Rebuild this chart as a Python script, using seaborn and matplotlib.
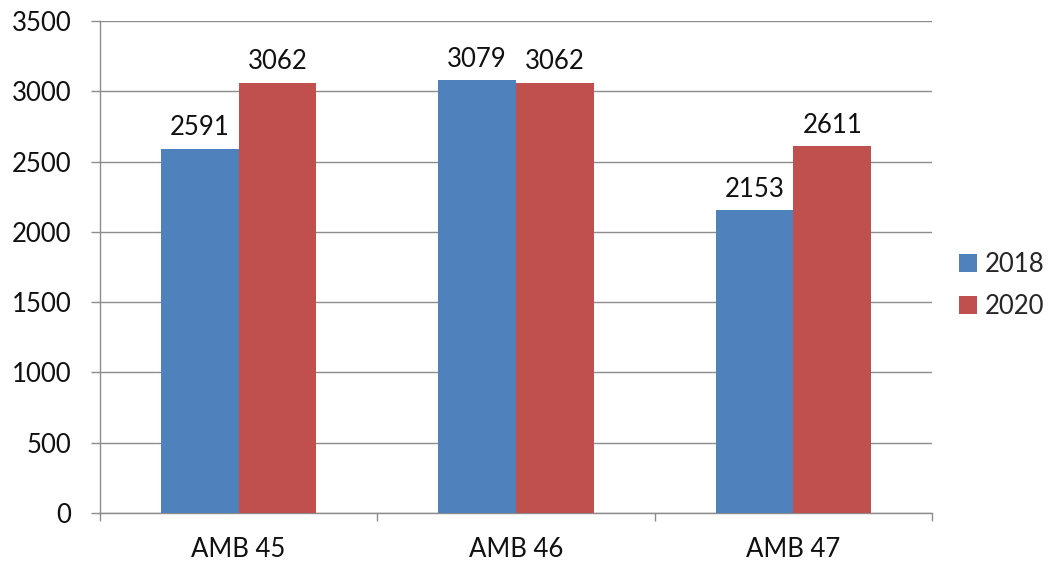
import matplotlib
matplotlib.use("Agg")
import matplotlib.pyplot as plt
import seaborn as sns
import pandas as pd

categories = ["AMB 45", "AMB 46", "AMB 47"]
years = ["2018", "2020"]
values_2018 = [2591, 3079, 2153]
values_2020 = [3062, 3062, 2611]
y_ticks = [0, 500, 1000, 1500, 2000, 2500, 3000, 3500]

df = pd.DataFrame({
    "category": categories * 2,
    "year": [years[0]] * 3 + [years[1]] * 3,
    "value": values_2018 + values_2020,
})

sns.set_theme(style="white")
plt.rcParams["font.family"] = ["Lato", "DejaVu Sans"]

fs = 18.5
grid_color = "#8c8c8c"
fig = plt.figure(figsize=(10.49, 5.64), dpi=100)
ax = fig.add_axes([0.0953, 0.0904, 0.7932, 0.8724])

sns.barplot(data=df, x="category", y="value", hue="year", order=categories,
            hue_order=years, palette=["#4F81BD", "#C0504D"], width=0.56,
            saturation=1, edgecolor="none", linewidth=0, ax=ax, zorder=3,
            legend=True)

for cont in ax.containers:
    ax.bar_label(cont, labels=[f"{v:.0f}" for v in cont.datavalues],
                 padding=6, fontsize=fs, color="#111111")

ax.set_ylim(0, 3500)
ax.set_yticks(y_ticks)
ax.set_yticklabels([str(t) for t in y_ticks], fontsize=fs, color="#111111")
ax.set_xlim(-0.5, 2.5)
ax.set_xticks(range(len(categories)))
ax.set_xticklabels(categories, fontsize=fs, color="#111111")
ax.set_xlabel("")
ax.set_ylabel("")

ax.yaxis.grid(True, color=grid_color, linewidth=1.0, zorder=0)
ax.set_axisbelow(True)
ax.tick_params(axis="y", direction="out", length=6.5, width=1.0,
               color=grid_color, pad=14, left=True)
ax.tick_params(axis="x", which="major", length=0, pad=17, bottom=True)
ax.set_xticks([-0.5, 0.5, 1.5, 2.5], minor=True)
ax.tick_params(axis="x", which="minor", direction="out", length=6,
               width=1.0, color=grid_color, bottom=True)

for side in ["top", "right"]:
    ax.spines[side].set_visible(False)
for side in ["left", "bottom"]:
    ax.spines[side].set_color(grid_color)
    ax.spines[side].set_linewidth(1.0)

handles, labels = ax.get_legend_handles_labels()
ax.get_legend().remove()
fig.legend(handles, labels, loc="center left", bbox_to_anchor=(0.914, 0.494),
           frameon=False, fontsize=fs, handlelength=0.72, handleheight=0.72,
           handletextpad=0.3, labelspacing=0.67, borderpad=0, borderaxespad=0)

fig.savefig("out.png", dpi=100, facecolor="white")
